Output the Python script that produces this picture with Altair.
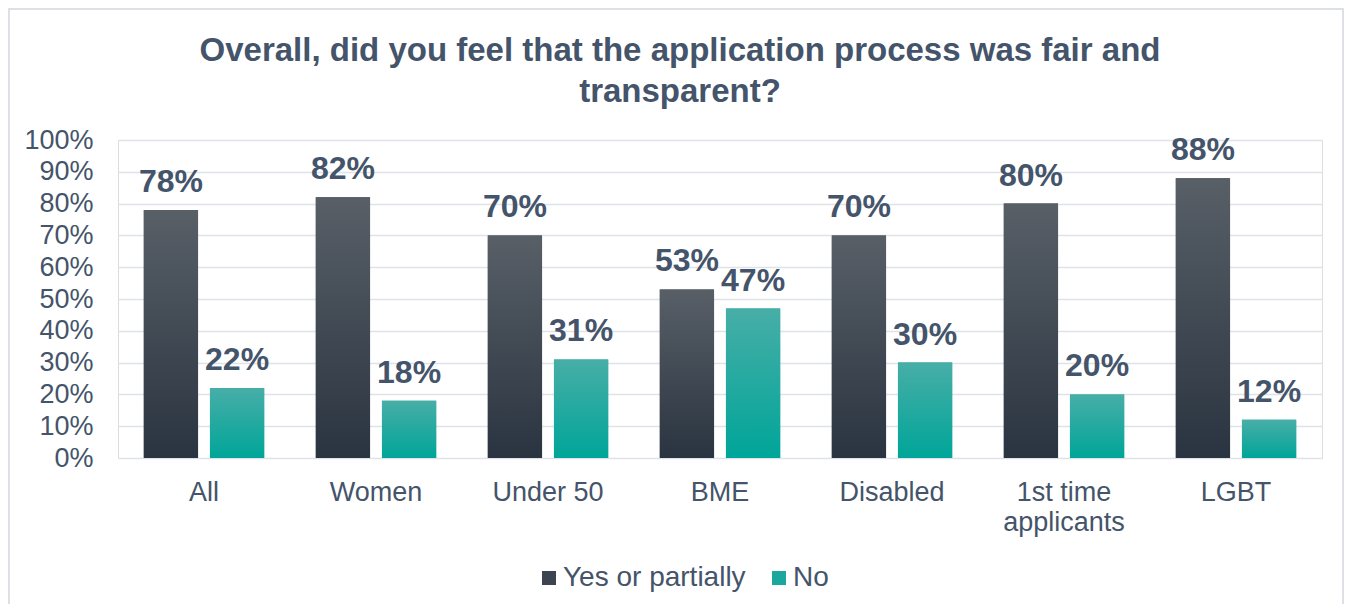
import altair as alt
import pandas as pd

categories = ["All", "Women", "Under 50", "BME", "Disabled", "1st time applicants", "LGBT"]
series = ["Yes or partially", "No"]
yes_values = [78, 82, 70, 53, 70, 80, 88]
no_values = [22, 18, 31, 47, 30, 20, 12]

rows = []
for c, yv, nv in zip(categories, yes_values, no_values):
    rows.append({"cat": c, "series": series[0], "v": yv})
    rows.append({"cat": c, "series": series[1], "v": nv})
df = pd.DataFrame(rows)

TEXT = "#44546a"
FONT = "Liberation Sans"

x = alt.X(
    "cat:N", sort=categories,
    scale=alt.Scale(paddingInner=0.3, paddingOuter=0.15),
    axis=alt.Axis(
        title=None, labelFontSize=27, labelColor=TEXT, labelPadding=21,
        domain=False, ticks=False, labelAngle=0, labelFont=FONT,
        labelLineHeight=30, labelBaseline="top",
        labelExpr="datum.label == '1st time applicants' ? ['1st time', 'applicants'] : datum.label",
    ),
)
xo = alt.XOffset("series:N", sort=series, scale=alt.Scale(domain=series, paddingInner=0.18))
y = alt.Y(
    "v:Q", scale=alt.Scale(domain=[0, 100]),
    axis=alt.Axis(
        title=None, values=list(range(0, 101, 10)), labelExpr="datum.value + '%'",
        labelFontSize=27, labelColor=TEXT, labelFont=FONT, labelPadding=25,
        domain=False, ticks=False, gridColor="#dfe2e8", gridWidth=1.5,
    ),
)

base = alt.Chart(df)

legend_layer = base.mark_bar().encode(
    x=x, xOffset=xo, y=y,
    color=alt.Color(
        "series:N", sort=series,
        scale=alt.Scale(domain=series, range=["#3c444f", "#1aa89e"]),
        legend=alt.Legend(
            title=None, orient="none", direction="horizontal", legendX=417, legendY=424,
            symbolType="square", symbolSize=196, symbolStrokeWidth=0,
            labelFontSize=28, labelColor=TEXT, labelFont=FONT, columnPadding=19,
            symbolOffset=0, labelOffset=0, labelLimit=400,
        ),
    ),
)

grad_yes = alt.Gradient(
    gradient="linear", x1=0, y1=0, x2=0, y2=1,
    stops=[alt.GradientStop(color="#585f67", offset=0), alt.GradientStop(color="#2a3440", offset=1)],
)
grad_no = alt.Gradient(
    gradient="linear", x1=0, y1=0, x2=0, y2=1,
    stops=[alt.GradientStop(color="#47aea7", offset=0), alt.GradientStop(color="#00a599", offset=1)],
)

yes_layer = base.transform_filter(alt.datum.series == series[0]).mark_bar(fill=grad_yes).encode(
    x=x, xOffset=xo, y=y)
no_layer = base.transform_filter(alt.datum.series == series[1]).mark_bar(fill=grad_no).encode(
    x=x, xOffset=xo, y=y)

labels = base.transform_calculate(lab="datum.v + '%'").mark_text(
    baseline="alphabetic", dy=-18, fontSize=32, fontWeight="bold", color=TEXT, font=FONT
).encode(x=x, xOffset=xo, y=y, text="lab:N")

# light frame around the whole chart (decoration)
frame = alt.Chart(pd.DataFrame({"d": [0]})).mark_rect(
    fill=None, stroke="#dde1e6", strokeWidth=2
).encode(x=alt.value(-109), x2=alt.value(1225), y=alt.value(-131), y2=alt.value(480))

chart = alt.layer(frame, legend_layer, yes_layer, no_layer, labels).properties(
    width=1204, height=318, autosize="none",
    padding={"left": 110, "top": 132, "right": 22, "bottom": 146},
    title=alt.TitleParams(
        text=["Overall, did you feel that the application process was fair and", "transparent?"],
        fontSize=33, fontWeight="bold", color=TEXT, font=FONT, anchor="middle",
        dx=-40, offset=-101, lineHeight=41,
    ),
).configure_view(stroke=None).configure(background="white")

chart.save("out.html", embed_options={"renderer": "svg", "actions": False})
